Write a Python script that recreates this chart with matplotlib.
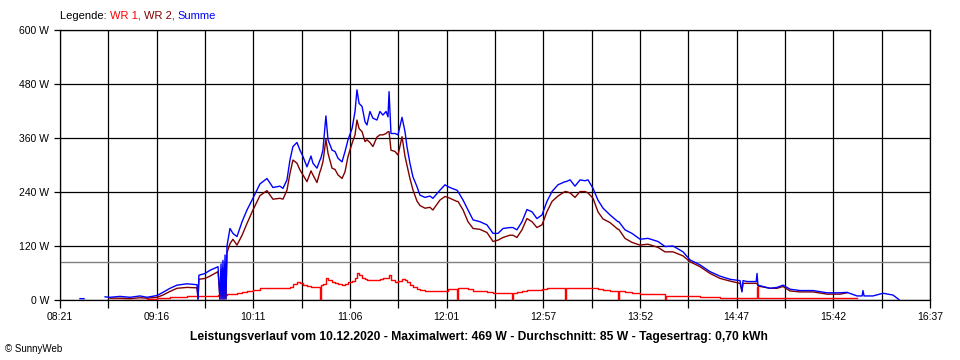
import numpy as np
import matplotlib
matplotlib.use("Agg")
import matplotlib.pyplot as plt

plt.rcParams['font.family'] = ['Liberation Sans', 'DejaVu Sans']

nan = np.nan

# Zeit in Minuten ab Mitternacht, Leistung in W
zeit = [
    512.4, 514.7, 515.3, 526.7, 529.5, 535.2, 540.9, 546.6, 550.6, 556.3,
    559.7, 563.7, 567.7, 573.4, 579.1, 579.7, 580.2, 583.7, 586.5, 591.1,
    592.2, 592.8, 593.4, 593.9, 594.5, 595.1, 595.6, 596.2, 597.9, 599.6,
    601.9, 604.8, 607.6, 611.0, 615.0, 619.0, 622.4, 626.4, 628.1, 630.4,
    632.1, 633.8, 636.1, 637.8, 639.5, 641.8, 644.1, 645.2, 647.5, 649.2,
    649.7, 650.9, 652.6, 653.8, 656.1, 657.8, 659.5, 661.8, 663.5, 665.2,
    667.5, 669.2, 670.3, 671.5, 673.2, 674.9, 676.0, 677.7, 679.4, 681.7,
    683.4, 685.1, 686.9, 688.0, 688.6, 689.7, 692.0, 693.7, 696.0, 697.7,
    698.8, 700.5, 702.2, 704.5, 706.2, 709.1, 711.9, 713.6, 717.6, 720.5,
    722.2, 724.5, 727.3, 727.9, 730.8, 733.6, 736.5, 740.4, 744.4, 747.9,
    750.7, 753.6, 757.5, 758.7, 759.2, 761.5, 764.4, 767.2, 770.1, 772.9,
    775.8, 778.6, 781.5, 784.9, 788.9, 789.5, 791.8, 794.6, 797.5, 800.3,
    802.0, 804.9, 807.7, 810.6, 814.6, 819.1, 819.6, 823.1, 827.1, 831.7,
    836.2, 841.9, 845.9, 846.5, 850.5, 856.2, 860.2, 865.9, 871.6, 877.3,
    883.0, 888.7, 889.8, 890.4, 892.7, 897.9, 898.4, 898.9, 905.8, 909.8, 913.2,
    917.2, 922.9, 930.3, 938.3, 945.7, 949.7, 955.4, 958.3, 958.8, 959.4, 964.5,
    970.2, 975.9, 979.3, 979.9,
]

summe = [
    3, 3, nan, 7, 6, 8, 6, 9, 6, 10,
    17, 26, 33, 36, 34, 2, 55, 59, 66, 74,
    2, 80, 2, 88, 2, 100, 3, 120, 159, 148,
    141, 174, 200, 226, 258, 270, 250, 253, 248, 267,
    311, 341, 350, 333, 319, 296, 320, 304, 293, 311,
    315, 333, 409, 356, 333, 330, 315, 307, 330, 356,
    381, 419, 467, 437, 430, 396, 389, 419, 404, 400,
    419, 411, 419, 407, 463, 370, 370, 367, 406, 374,
    341, 304, 274, 252, 233, 228, 231, 226, 244, 256,
    252, 248, 244, 241, 222, 200, 178, 174, 167, 148,
    148, 159, 161, 161, 161, 156, 174, 201, 196, 181,
    189, 219, 241, 256, 263, 263, 267, 253, 267, 265,
    267, 248, 222, 204, 189, 174, 174, 156, 148, 135,
    137, 130, 119, 119, 120, 107, 89, 78, 63, 53,
    46, 43, 18, 43, 41, 41, 59, 33, 26, 28, 33,
    24, 21, 21, 16, 16, 17, 9, 9, 21, 9, 9,
    15, 11, 1, nan,
]

wr2 = [
    nan, nan, nan, nan, 4, 4, 3, 5, 4, 6,
    11, 19, 26, 28, 27, 2, 46, 48, 53, 63,
    2, 68, 2, 72, 2, 80, 2, 105, 125, 135,
    122, 144, 170, 200, 232, 243, 224, 226, 224, 244,
    281, 311, 304, 289, 278, 263, 287, 278, 261, 285,
    290, 307, 357, 326, 293, 290, 278, 270, 285, 319,
    348, 367, 400, 381, 374, 352, 356, 350, 341, 362,
    367, 367, 370, 374, 374, 333, 330, 322, 363, 319,
    300, 270, 245, 220, 210, 204, 206, 200, 222, 230,
    228, 224, 219, 219, 200, 174, 159, 157, 150, 130,
    133, 139, 144, 144, 144, 139, 156, 181, 174, 161,
    167, 196, 219, 231, 241, 241, 238, 228, 241, 241,
    238, 226, 196, 180, 172, 157, 157, 137, 128, 122,
    124, 117, 107, 107, 107, 98, 85, 74, 59, 48,
    42, 37, 20, 37, 37, 37, 37, 31, 26, 26, 30,
    20, 18, 18, 13, 13, 16, nan, nan, nan, nan, nan,
    nan, nan, nan, nan,
]

wr1 = [
    nan, nan, nan, nan, 1, 1, 1, 1, 2, 4,
    5, 7, 7, 8, 8, 8, 9, 9, 10, 11,
    11, 11, 11, 12, 12, 12, 12, 13, 13, 13,
    15, 17, 19, 22, 26, 26, 26, 26, 26, 27,
    30, 35, 39, 37, 33, 32, 30, 30, 30, 0,
    33, 35, 50, 45, 39, 37, 35, 33, 36, 39,
    42, 50, 61, 55, 50, 46, 45, 44, 44, 44,
    46, 48, 48, 50, 55, 45, 41, 43, 47, 44,
    40, 33, 29, 24, 22, 21, 21, 21, 21, 21,
    24, 24, 0, 26, 26, 25, 21, 20, 18, 15,
    15, 15, 15, 2, 16, 17, 21, 22, 22, 23,
    24, 26, 27, 27, 0, 27, 27, 27, 27, 27,
    27, 26, 24, 22, 21, 0, 19, 17, 15, 13,
    13, 13, 0, 10, 10, 10, 8, 7, 7, 5,
    4, 4, 4, 4, 4, 4, 28, 4, 4, 4, 4,
    4, 4, 4, 4, 4, 4, nan, nan, nan, nan, nan,
    nan, nan, nan, nan,
]

durchschnitt = 85
y_ticks = [0, 120, 240, 360, 480, 600]
x_labels = ["08:21", "09:16", "10:11", "11:06", "12:01",
            "12:57", "13:52", "14:47", "15:42", "16:37"]
t_start, t_end = 501, 997

fig = plt.figure(figsize=(9.6, 3.6), dpi=100)
ax = fig.add_axes([60 / 960, 60 / 360, 870 / 960, 270 / 360])

ax.plot(zeit, wr1, color='#ff0000', lw=1.0, drawstyle='steps-post', zorder=3)
ax.plot(zeit, wr2, color='#800000', lw=1.0, zorder=4)
ax.plot(zeit, summe, color='#0000ff', lw=1.0, zorder=5)
ax.axhline(durchschnitt, color='#808080', lw=1.0, zorder=2)

ax.set_xlim(t_start, t_end)
ax.set_ylim(0, 600)

xt = np.linspace(t_start, t_end, 19)
labels = []
for i in range(19):
    labels.append(x_labels[i // 2] if i % 2 == 0 else "")
ax.set_xticks(xt)
ax.set_xticklabels(labels, fontsize=7.5)
ax.set_yticks(y_ticks)
ax.set_yticklabels([f"{v} W" for v in y_ticks], fontsize=7.5)
ax.tick_params(axis='x', length=6, width=0.9, pad=3, color='black')
ax.tick_params(axis='y', length=4, width=0.9, pad=4, color='black')
ax.grid(True, color='black', lw=0.9, zorder=1)
ax.set_axisbelow(True)
for s in ax.spines.values():
    s.set_color('black')
    s.set_linewidth(0.9)

# Legende oben links, mehrfarbig
renderer = fig.canvas.get_renderer()
x = 60 / 960
for txt, col in [("Legende: ", 'black'), ("WR 1, ", '#ff0000'),
                 ("WR 2, ", '#800000'), ("Summe", '#0000ff')]:
    t = fig.text(x, 1 - 16 / 360, txt, color=col, fontsize=8, va='center')
    bb = t.get_window_extent(renderer)
    x = bb.x1 / fig.bbox.width

fig.text(479 / 960, 1 - 337 / 360,
         "Leistungsverlauf vom 10.12.2020 - Maximalwert: 469 W - "
         "Durchschnitt: 85 W - Tagesertrag: 0,70 kWh",
         ha='center', va='center', fontsize=8.7, fontweight='bold')
fig.text(5 / 960, 1 - 349 / 360, "© SunnyWeb", fontsize=7, va='center')

fig.savefig("out.png", dpi=100)
